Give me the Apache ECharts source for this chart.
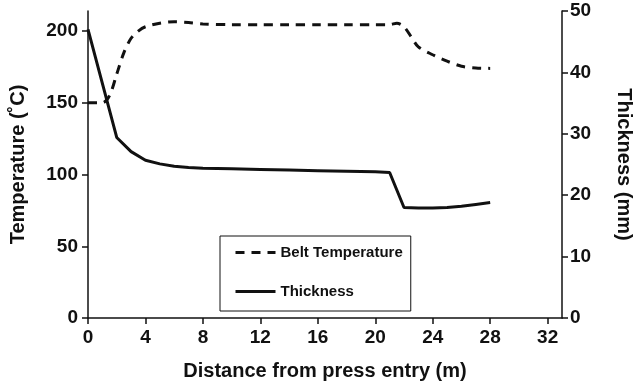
<!DOCTYPE html>
<html>
<head>
<meta charset="utf-8">
<script src="https://cdn.jsdelivr.net/npm/echarts@6/dist/echarts.min.js"></script>
<style>
  html, body { margin: 0; padding: 0; background: #fff; }
  #chart { width: 642px; height: 387px; }
</style>
</head>
<body>
<div id="chart"></div>
<script>
// distance from press entry (m)
const tempX = [0, 1, 1.5, 2, 2.5, 3, 3.5, 4, 5, 6, 7, 8, 10, 12, 14, 16, 18, 20, 21, 21.5, 22, 22.5, 23, 24, 25, 26, 27, 28];
const beltTemp = [150, 150, 155, 170, 185, 195, 200, 203, 205.5, 206.5, 206, 205, 204.5, 204.5, 204.5, 204.5, 204.5, 204.5, 204.5, 205.5, 203, 196, 189, 183.5, 179, 175.5, 174.3, 174];
const thickX = [0, 2, 3, 4, 5, 6, 7, 8, 10, 12, 14, 16, 18, 20, 21, 22, 23, 24, 25, 26, 27, 28];
const thickness = [47, 29.4, 27.1, 25.7, 25.1, 24.7, 24.5, 24.4, 24.3, 24.2, 24.1, 24.0, 23.9, 23.8, 23.7, 18.0, 17.9, 17.9, 18.0, 18.2, 18.5, 18.8];
const xTicks = [0, 4, 8, 12, 16, 20, 24, 28, 32];
const tempTicks = [0, 50, 100, 150, 200];
const thickTicks = [0, 10, 20, 30, 40, 50];

const ink = '#111';
const font = 'Liberation Sans, Arial, sans-serif';
const tickLabel = { color: ink, fontFamily: font, fontWeight: 'bold', fontSize: 19 };
const nameStyle = { color: ink, fontFamily: font, fontWeight: 'bold', fontSize: 20 };

const chart = echarts.init(document.getElementById('chart'), null, { renderer: 'canvas' });

chart.setOption({
  animation: false,
  backgroundColor: '#fff',
  grid: { left: 84, right: 69, top: 11, bottom: 69 },
  legend: {
    left: 220,
    top: 236,
    orient: 'vertical',
    borderColor: ink,
    borderWidth: 1,
    padding: [9, 8, 12, 14],
    itemWidth: 40,
    itemHeight: 14,
    itemGap: 24,
    itemStyle: { opacity: 0 },
    lineStyle: { width: 3 },
    textStyle: { color: ink, fontFamily: font, fontWeight: 'bold', fontSize: 15 },
    data: ['Belt Temperature', 'Thickness']
  },
  xAxis: {
    type: 'value',
    min: 0,
    max: 33,
    name: 'Distance from press entry (m)',
    nameLocation: 'middle',
    nameGap: 43,
    nameTextStyle: nameStyle,
    axisLine: { lineStyle: { color: ink, width: 1.5 } },
    axisTick: { customValues: xTicks, length: 6, lineStyle: { color: ink, width: 1.5 } },
    axisLabel: Object.assign({ customValues: xTicks, margin: 10 }, tickLabel),
    splitLine: { show: false }
  },
  yAxis: [
    {
      type: 'value',
      min: 0,
      max: 214,
      position: 'left',
      name: 'Temperature (˚C)',
      nameLocation: 'middle',
      nameGap: 60,
      nameTextStyle: nameStyle,
      axisLine: { show: true, lineStyle: { color: ink, width: 1.5 } },
      axisTick: { show: true, customValues: tempTicks, length: 6, lineStyle: { color: ink, width: 1.5 } },
      axisLabel: Object.assign({ customValues: tempTicks, margin: 10 }, tickLabel),
      splitLine: { show: false }
    },
    {
      type: 'value',
      min: 0,
      max: 50,
      position: 'right',
      name: 'Thickness (mm)',
      nameLocation: 'middle',
      nameRotate: -90,
      nameGap: 52,
      nameTextStyle: nameStyle,
      axisLine: { show: true, lineStyle: { color: ink, width: 1.5 } },
      axisTick: { show: true, customValues: thickTicks, length: 6, lineStyle: { color: ink, width: 1.5 } },
      axisLabel: Object.assign({ customValues: thickTicks, margin: 8 }, tickLabel),
      splitLine: { show: false }
    }
  ],
  series: [
    {
      name: 'Belt Temperature',
      type: 'line',
      yAxisIndex: 0,
      smooth: 0.3,
      symbol: 'none',
      data: tempX.map((x, i) => [x, beltTemp[i]]),
      lineStyle: { color: ink, width: 3, type: [9, 7] },
      itemStyle: { color: ink }
    },
    {
      name: 'Thickness',
      type: 'line',
      yAxisIndex: 1,
      symbol: 'none',
      data: thickX.map((x, i) => [x, thickness[i]]),
      lineStyle: { color: ink, width: 3 },
      itemStyle: { color: ink }
    }
  ]
});
</script>
</body>
</html>
